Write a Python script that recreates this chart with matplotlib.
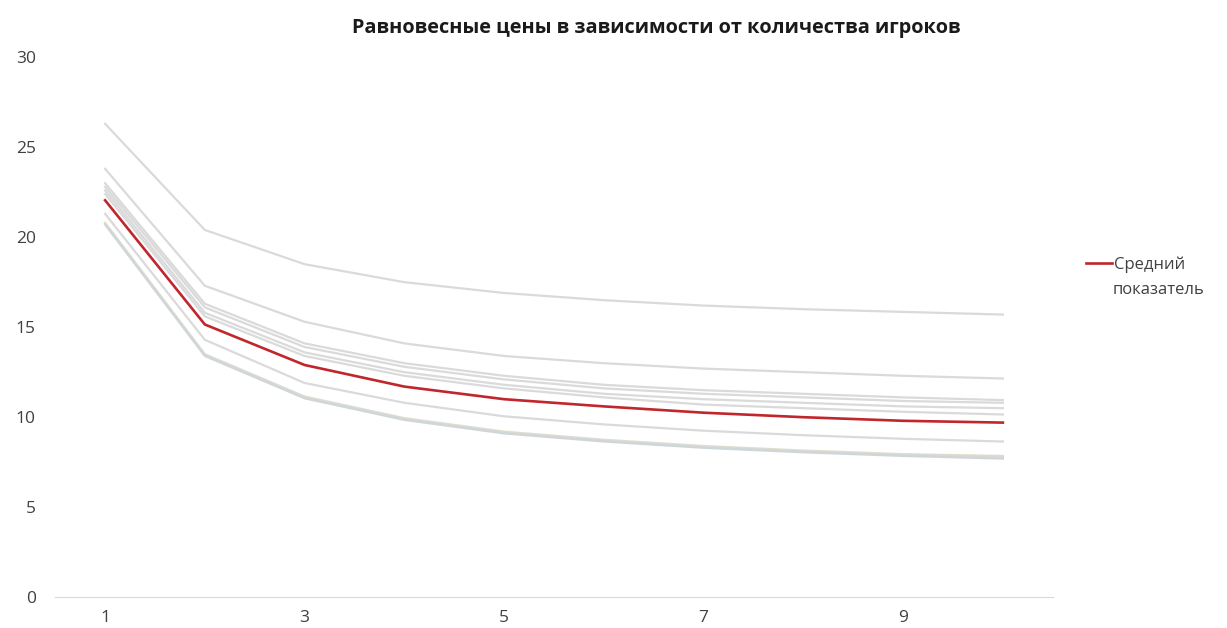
import matplotlib.pyplot as plt

plt.rcParams['font.family'] = ['Open Sans', 'DejaVu Sans']

# ------------------------------
# данные: количество игроков и равновесные цены
# ------------------------------
players = [1, 2, 3, 4, 5, 6, 7, 8, 9, 10]

prices_a = [26.3, 20.4, 18.5, 17.5, 16.9, 16.5, 16.2, 16.0, 15.85, 15.7]
prices_b = [23.8, 17.3, 15.3, 14.1, 13.4, 13.0, 12.7, 12.5, 12.3, 12.15]
prices_c1 = [23.0, 16.3, 14.1, 13.0, 12.3, 11.8, 11.5, 11.3, 11.1, 10.95]
prices_c2 = [22.8, 16.1, 13.9, 12.8, 12.1, 11.6, 11.3, 11.1, 10.9, 10.8]
prices_c3 = [22.6, 15.8, 13.6, 12.5, 11.8, 11.3, 11.0, 10.8, 10.6, 10.5]
prices_c4 = [22.4, 15.6, 13.4, 12.3, 11.6, 11.1, 10.7, 10.5, 10.3, 10.15]
prices_d = [21.3, 14.3, 11.9, 10.8, 10.05, 9.6, 9.25, 9.0, 8.8, 8.65]
prices_e1 = [20.8, 13.5, 11.15, 9.95, 9.2, 8.75, 8.4, 8.15, 7.95, 7.85]
prices_e2 = [20.75, 13.45, 11.1, 9.9, 9.15, 8.7, 8.35, 8.1, 7.9, 7.8]
prices_e3 = [20.7, 13.4, 11.05, 9.85, 9.1, 8.65, 8.3, 8.05, 7.85, 7.7]
mean_price = [22.05, 15.15, 12.9, 11.7, 11.0, 10.6, 10.25, 10.0, 9.8, 9.7]

grey_series = [prices_a, prices_b, prices_c1, prices_c2, prices_c3, prices_c4,
               prices_d, prices_e1, prices_e2, prices_e3]
grey_colors = ['#dadada'] * 7 + ['#e3dfcc', '#d6d9d6', '#cfd6da']

# ------------------------------
# график
# ------------------------------
fig = plt.figure(figsize=(12.27, 6.28), dpi=100)
ax = fig.add_axes([0.045, 0.049, 0.813, 0.86])

for s, c in zip(grey_series, grey_colors):
    ax.plot(players, s, color=c, lw=1.6)
ax.plot(players, mean_price, color='#c0262b', lw=1.9, label='Средний')

ax.set_xlim(0.5, 10.5)
ax.set_ylim(0, 30)
ax.set_xticks([1, 3, 5, 7, 9])
ax.set_yticks([0, 5, 10, 15, 20, 25, 30])
ax.tick_params(length=0, labelsize=12.5, colors='#404040')
ax.tick_params(axis='x', pad=9)
ax.tick_params(axis='y', pad=14)
for sp in ['top', 'right', 'left']:
    ax.spines[sp].set_visible(False)
ax.spines['bottom'].set_color('#d9d9d9')

fig.text(0.535, 0.955, 'Равновесные цены в зависимости от количества игроков',
         ha='center', va='center', fontsize=14.3, fontweight='bold', color='#1a1a1a')

# легенда: линия на уровне первой строки подписи
leg = fig.legend(loc='center left', bbox_to_anchor=(0.878, 0.578), frameon=False,
                 fontsize=12, handlelength=1.6, handletextpad=0.1, borderpad=0)
for t in leg.get_texts():
    t.set_color('#404040')
fig.text(0.9065, 0.538, 'показатель', ha='left', va='center', fontsize=12, color='#404040')

fig.savefig('out.png', dpi=100)
